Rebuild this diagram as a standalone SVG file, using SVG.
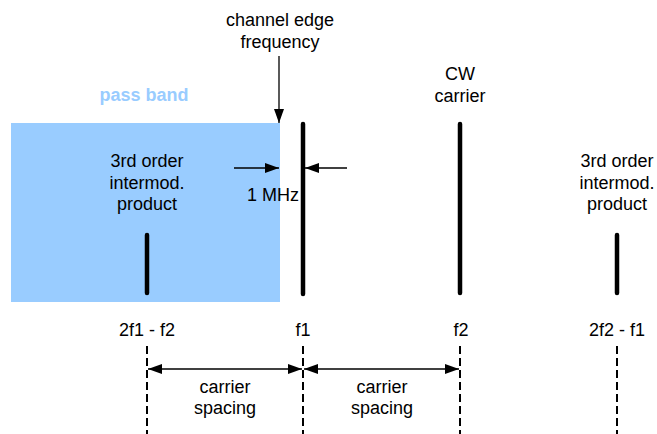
<svg xmlns="http://www.w3.org/2000/svg" width="657" height="434" viewBox="0 0 657 434">
<defs>
<marker id="ah" markerWidth="14" markerHeight="10" refX="14" refY="5" orient="auto-start-reverse" markerUnits="userSpaceOnUse">
<path d="M0,0 L14,5 L0,10 z" fill="#000"/>
</marker>
<style>
text{font-family:"Liberation Sans",Arial,sans-serif;font-size:18px;fill:#000;text-anchor:middle}
.pb{font-weight:bold;fill:#99CCFF}
.spec{stroke:#000;stroke-width:4.5;stroke-linecap:round;fill:none}
.arr{stroke:#000;stroke-width:1.3;fill:none}
.dash{stroke:#000;stroke-width:2;stroke-dasharray:8 4;fill:none}
</style>
</defs>
<rect id="passband" x="11" y="123" width="269" height="179" fill="#99CCFF"/>
<g id="passband-label"><text class="pb" x="144" y="101">pass band</text></g>
<g id="channel-edge"><text x="280" y="26">channel edge</text><text x="280" y="48">frequency</text></g>
<g id="imd-left"><text x="147" y="167">3rd order</text><text x="147" y="189">intermod.</text><text x="147" y="210">product</text><line class="spec" x1="147" y1="235" x2="147" y2="293"/></g>
<g id="f1-carrier"><line class="spec" x1="303" y1="124" x2="303" y2="294"/></g>
<g id="cw-carrier"><text x="460" y="80">CW</text><text x="460" y="102">carrier</text><line class="spec" x1="460" y1="124" x2="460" y2="293"/></g>
<g id="imd-right"><text x="617" y="167">3rd order</text><text x="617" y="189">intermod.</text><text x="617" y="210">product</text><line class="spec" x1="617" y1="235" x2="617" y2="293"/></g>
<g id="mhz-label"><text x="273" y="201">1 MHz</text></g>
<g id="axis-labels"><text x="147" y="336">2f1 - f2</text><text x="303" y="336">f1</text><text x="461" y="336">f2</text><text x="617" y="336">2f2 - f1</text></g>
<g id="spacing-labels"><text x="225" y="393">carrier</text><text x="225" y="414">spacing</text><text x="382" y="393">carrier</text><text x="382" y="414">spacing</text></g>
<g id="connectors">
<line class="arr" x1="279" y1="56" x2="279" y2="123" marker-end="url(#ah)"/>
<line class="arr" x1="234" y1="168" x2="279" y2="168" marker-end="url(#ah)"/>
<line class="arr" x1="347" y1="168" x2="305" y2="168" marker-end="url(#ah)"/>
<line class="dash" x1="147" y1="346" x2="147" y2="434"/>
<line class="dash" x1="303" y1="346" x2="303" y2="434"/>
<line class="dash" x1="460" y1="346" x2="460" y2="434"/>
<line class="dash" x1="617" y1="346" x2="617" y2="434"/>
<line class="arr" x1="148" y1="369" x2="302" y2="369" marker-start="url(#ah)" marker-end="url(#ah)"/>
<line class="arr" x1="304" y1="369" x2="459" y2="369" marker-start="url(#ah)" marker-end="url(#ah)"/>
</g>
</svg>
